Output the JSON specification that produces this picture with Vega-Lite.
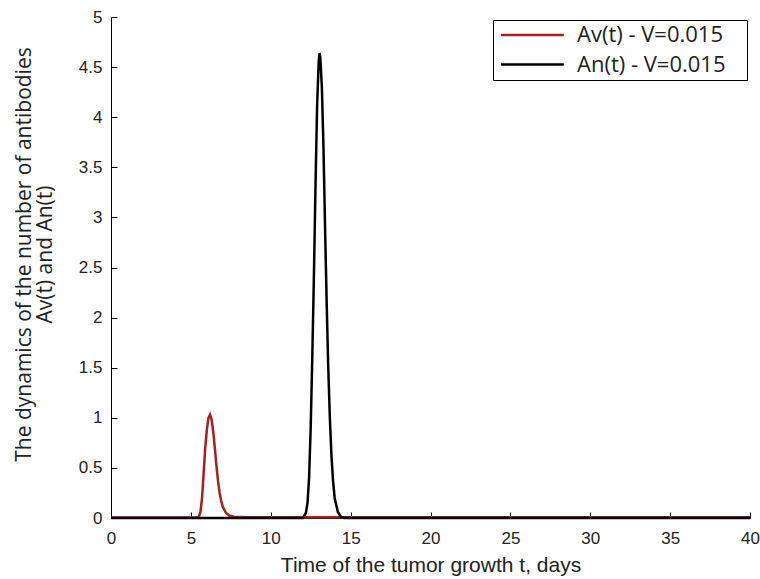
{
  "$schema": "https://vega.github.io/schema/vega-lite/v6.json",
  "autosize": {"type": "none"},
  "padding": {"left": 111, "top": 17, "right": 10, "bottom": 61},
  "width": 639,
  "height": 501,
  "background": "white",
  "config": {
    "view": {"stroke": null},
    "axis": {
      "grid": false,
      "domainColor": "#000000",
      "domainWidth": 1,
      "tickColor": "#000000",
      "tickWidth": 1,
      "labelColor": "#222222",
      "labelFont": "Liberation Sans",
      "labelFontSize": 17,
      "titleColor": "#222222",
      "titleFontWeight": "normal"
    }
  },
  "datasets": {
    "curves": [
      {"t": 0, "v": 0.005, "s": "Av(t) - V=0.015"},
      {"t": 5.4, "v": 0.005, "s": "Av(t) - V=0.015"},
      {"t": 5.5, "v": 0.015, "s": "Av(t) - V=0.015"},
      {"t": 5.6, "v": 0.06, "s": "Av(t) - V=0.015"},
      {"t": 5.7, "v": 0.2, "s": "Av(t) - V=0.015"},
      {"t": 5.8, "v": 0.45, "s": "Av(t) - V=0.015"},
      {"t": 5.9, "v": 0.7, "s": "Av(t) - V=0.015"},
      {"t": 6.0, "v": 0.88, "s": "Av(t) - V=0.015"},
      {"t": 6.1, "v": 1.0, "s": "Av(t) - V=0.015"},
      {"t": 6.2, "v": 1.03, "s": "Av(t) - V=0.015"},
      {"t": 6.3, "v": 0.98, "s": "Av(t) - V=0.015"},
      {"t": 6.4, "v": 0.86, "s": "Av(t) - V=0.015"},
      {"t": 6.5, "v": 0.7, "s": "Av(t) - V=0.015"},
      {"t": 6.6, "v": 0.52, "s": "Av(t) - V=0.015"},
      {"t": 6.7, "v": 0.37, "s": "Av(t) - V=0.015"},
      {"t": 6.8, "v": 0.25, "s": "Av(t) - V=0.015"},
      {"t": 6.9, "v": 0.17, "s": "Av(t) - V=0.015"},
      {"t": 7.0, "v": 0.11, "s": "Av(t) - V=0.015"},
      {"t": 7.2, "v": 0.05, "s": "Av(t) - V=0.015"},
      {"t": 7.4, "v": 0.025, "s": "Av(t) - V=0.015"},
      {"t": 7.7, "v": 0.012, "s": "Av(t) - V=0.015"},
      {"t": 8.5, "v": 0.008, "s": "Av(t) - V=0.015"},
      {"t": 40, "v": 0.008, "s": "Av(t) - V=0.015"},
      {"t": 0, "v": 0, "s": "An(t) - V=0.015"},
      {"t": 12.0, "v": 0, "s": "An(t) - V=0.015"},
      {"t": 12.2, "v": 0.05, "s": "An(t) - V=0.015"},
      {"t": 12.3, "v": 0.15, "s": "An(t) - V=0.015"},
      {"t": 12.4, "v": 0.4, "s": "An(t) - V=0.015"},
      {"t": 12.5, "v": 0.9, "s": "An(t) - V=0.015"},
      {"t": 12.6, "v": 1.6, "s": "An(t) - V=0.015"},
      {"t": 12.7, "v": 2.4, "s": "An(t) - V=0.015"},
      {"t": 12.8, "v": 3.3, "s": "An(t) - V=0.015"},
      {"t": 12.9, "v": 4.1, "s": "An(t) - V=0.015"},
      {"t": 13.0, "v": 4.55, "s": "An(t) - V=0.015"},
      {"t": 13.05, "v": 4.64, "s": "An(t) - V=0.015"},
      {"t": 13.1, "v": 4.6, "s": "An(t) - V=0.015"},
      {"t": 13.2, "v": 4.3, "s": "An(t) - V=0.015"},
      {"t": 13.3, "v": 3.7, "s": "An(t) - V=0.015"},
      {"t": 13.4, "v": 2.9, "s": "An(t) - V=0.015"},
      {"t": 13.5, "v": 2.15, "s": "An(t) - V=0.015"},
      {"t": 13.6, "v": 1.5, "s": "An(t) - V=0.015"},
      {"t": 13.7, "v": 1.0, "s": "An(t) - V=0.015"},
      {"t": 13.8, "v": 0.62, "s": "An(t) - V=0.015"},
      {"t": 13.9, "v": 0.37, "s": "An(t) - V=0.015"},
      {"t": 14.0, "v": 0.2, "s": "An(t) - V=0.015"},
      {"t": 14.2, "v": 0.06, "s": "An(t) - V=0.015"},
      {"t": 14.4, "v": 0.01, "s": "An(t) - V=0.015"},
      {"t": 14.6, "v": 0, "s": "An(t) - V=0.015"},
      {"t": 40, "v": 0, "s": "An(t) - V=0.015"}
    ]
  },
  "data": {"name": "curves"},
  "encoding": {
    "color": {
      "field": "s",
      "type": "nominal",
      "scale": {"domain": ["Av(t) - V=0.015", "An(t) - V=0.015"], "range": ["#a81f1f", "#000000"]},
      "legend": {
        "title": "\u00a0",
        "titleOrient": "right",
        "titleFontSize": 22,
        "titlePadding": 17,
        "titleColor": "white",
        "orient": "none",
        "legendX": 382,
        "legendY": 3,
        "fillColor": "white",
        "strokeColor": "#000000",
        "padding": 4,
        "symbolType": "M-0.875,0H6.975",
        "symbolSize": 256,
        "symbolStrokeWidth": 2.5,
        "labelFont": "Open Sans",
        "labelFontSize": 22,
        "labelColor": "#222222",
        "labelOffset": 58,
        "labelLimit": 400,
        "rowPadding": 7.5
      }
    }
  },
  "layer": [
    {
      "transform": [{"filter": "datum.s == 'Av(t) - V=0.015'"}],
      "mark": {"type": "line", "strokeWidth": 2.5},
      "encoding": {
        "x": {
          "field": "t",
          "type": "quantitative",
          "scale": {"domain": [0, 40], "nice": false},
          "axis": {
            "values": [0, 5, 10, 15, 20, 25, 30, 35, 40],
            "title": "Time of the tumor growth t, days",
            "titleFont": "Liberation Sans",
            "titleFontSize": 21,
            "titleBaseline": "top",
            "titleY": 36,
            "ticks": false,
            "labelPadding": 12,
            "labelFlush": false
          }
        },
        "y": {
          "field": "v",
          "type": "quantitative",
          "scale": {"domain": [0, 5], "nice": false},
          "axis": {
            "values": [0, 0.5, 1, 1.5, 2, 2.5, 3, 3.5, 4, 4.5, 5],
            "format": "~g",
            "title": ["The dynamics of the number of antibodies", "Av(t) and An(t)"],
            "titleFont": "Open Sans",
            "titleFontSize": 21,
            "titleLineHeight": 21,
            "titleX": -76.5,
            "titleY": 237,
            "ticks": false,
            "labelPadding": 9,
            "labelFlush": false
          }
        }
      }
    },
    {
      "transform": [{"filter": "datum.s == 'An(t) - V=0.015'"}],
      "mark": {"type": "line", "strokeWidth": 2.5},
      "encoding": {
        "x": {
          "field": "t",
          "type": "quantitative",
          "axis": {
            "orient": "top",
            "offset": -501,
            "values": [0, 5, 10, 15, 20, 25, 30, 35, 40],
            "title": null,
            "labels": false,
            "domain": false,
            "ticks": true,
            "tickSize": 6
          }
        },
        "y": {
          "field": "v",
          "type": "quantitative",
          "axis": {
            "orient": "right",
            "offset": -639,
            "values": [0, 0.5, 1, 1.5, 2, 2.5, 3, 3.5, 4, 4.5, 5],
            "title": null,
            "labels": false,
            "domain": false,
            "ticks": true,
            "tickSize": 6
          }
        }
      }
    }
  ],
  "resolve": {"axis": {"x": "independent", "y": "independent"}}
}
